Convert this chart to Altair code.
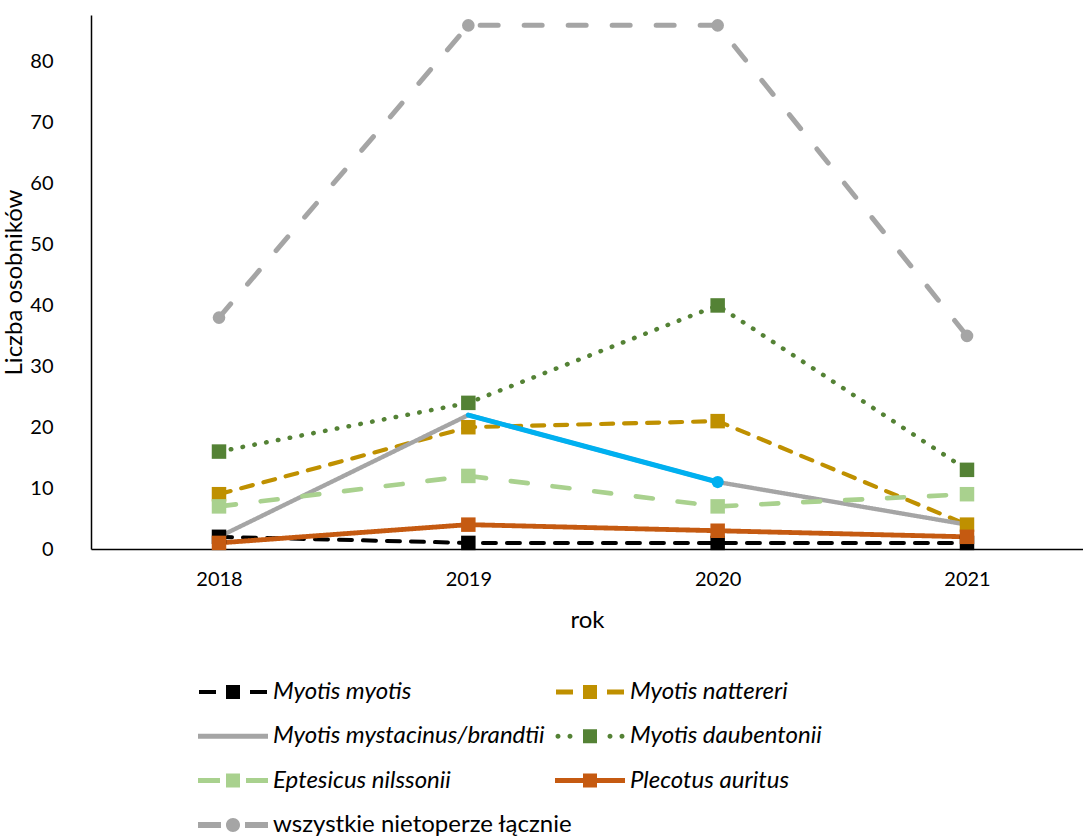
import altair as alt
import pandas as pd

years = [2018, 2019, 2020, 2021]
series = [
    "Myotis myotis",
    "Myotis nattereri",
    "Myotis mystacinus/brandtii",
    "Myotis daubentonii",
    "Eptesicus nilssonii",
    "Plecotus auritus",
    "wszystkie nietoperze łącznie",
]
v_myotis = [2, 1, 1, 1]
v_nattereri = [9, 20, 21, 4]
v_mystacinus = [2, 22, 11, 4]
v_daubentonii = [16, 24, 40, 13]
v_eptesicus = [7, 12, 7, 9]
v_plecotus = [1, 4, 3, 2]
v_total = [38, 86, 86, 35]
# segment of the mystacinus/brandtii series drawn in blue in the original
hl_years = [2019, 2020]
hl_values = [22, 11]

colors = ["#000000", "#BF9000", "#A5A5A5", "#548235", "#A9D18E", "#C55A11", "#A5A5A5"]
dashes = [[13, 11], [12, 11], [1, 0], [0.5, 11.5], [17, 25], [1, 0], [18, 26]]
widths = [4, 5, 5, 5, 5, 5, 6]

values = [v_myotis, v_nattereri, v_mystacinus, v_daubentonii, v_eptesicus, v_plecotus, v_total]
rows = []
for s, vals in zip(series, values):
    for y, v in zip(years, vals):
        rows.append({"rok": y, "series": s, "value": v})
df = pd.DataFrame(rows)
hl = pd.DataFrame({"rok": hl_years, "value": hl_values})


# legend symbol paths (1 unit = 1 px with symbolSize 4)
def rect(x0, x1, h):
    return f"M{x0},{-h/2}H{x1}V{h/2}H{x0}Z"


def sq(s):
    return rect(-s / 2, s / 2, s)


def circ(cx, r):
    return f"M{cx - r},0A{r},{r} 0 1,0 {cx + r},0A{r},{r} 0 1,0 {cx - r},0Z"


sym = [
    rect(-34, -17, 4) + sq(14) + rect(17, 34, 4),
    rect(-34, -17, 5) + sq(14) + rect(17, 34, 5),
    rect(-35, 35, 5),
    circ(-32, 2.5) + circ(-20, 2.5) + sq(14) + circ(20, 2.5) + circ(32, 2.5),
    rect(-35, -13, 5) + sq(14) + rect(13, 35, 5),
    rect(-35, 35, 5) + sq(14),
    rect(-35, -12, 6) + circ(0, 7) + rect(12, 35, 6),
]

# legend order: the legend fills column by column, so this gives the
# row-by-row reading order of the original (2 columns)
leg_idx = [0, 2, 4, 6, 1, 3, 5]
leg_series = [series[i] for i in leg_idx]
leg_colors = [colors[i] for i in leg_idx]
leg_sym = [sym[i] for i in leg_idx]

x_scale = alt.Scale(domain=[2017.4866, 2021.4653], nice=False, zero=False)
y_scale = alt.Scale(domain=[0, 87.7], nice=False)

x_enc = alt.X(
    "rok:Q",
    scale=x_scale,
    axis=alt.Axis(values=years, format="d", title="rok", labelPadding=20,
                  ticks=False, grid=False, titlePadding=19),
)
y_enc = alt.Y(
    "value:Q",
    scale=y_scale,
    axis=alt.Axis(values=[0, 10, 20, 30, 40, 50, 60, 70, 80], title="Liczba osobników",
                  labelPadding=38, ticks=False, grid=False,
                  titleX=-77, titleY=267, titleBaseline="middle", titleAlign="center",
                  titleAngle=270),
)

base = alt.Chart(df)

lines = base.mark_line(strokeCap="round", strokeJoin="round").encode(
    x=x_enc,
    y=y_enc,
    color=alt.Color("series:N", scale=alt.Scale(domain=series, range=colors), legend=None),
    strokeDash=alt.StrokeDash("series:N", scale=alt.Scale(domain=series, range=dashes), legend=None),
    strokeWidth=alt.StrokeWidth("series:N", scale=alt.Scale(domain=series, range=widths), legend=None),
    detail="series:N",
)

blue_line = alt.Chart(hl).mark_line(color="#00B0F0", strokeWidth=5, strokeCap="round").encode(
    x=alt.X("rok:Q", scale=x_scale), y=alt.Y("value:Q", scale=y_scale)
)
blue_pt = alt.Chart(hl).transform_filter("datum.rok == 2020").mark_circle(
    color="#00B0F0", size=150, opacity=1
).encode(x=alt.X("rok:Q", scale=x_scale), y=alt.Y("value:Q", scale=y_scale))

squares = base.transform_filter(
    (alt.datum.series != "wszystkie nietoperze łącznie")
    & (alt.datum.series != "Myotis mystacinus/brandtii")
).mark_square(size=210, opacity=1).encode(
    x=alt.X("rok:Q", scale=x_scale),
    y=alt.Y("value:Q", scale=y_scale),
    color=alt.Color("series:N", scale=alt.Scale(domain=series, range=colors), legend=None),
)
circles = base.transform_filter(
    alt.datum.series == "wszystkie nietoperze łącznie"
).mark_circle(size=160, opacity=1, color="#A5A5A5").encode(
    x=alt.X("rok:Q", scale=x_scale),
    y=alt.Y("value:Q", scale=y_scale),
)

leg = alt.Legend(
    title=None,
    orient="none",
    legendX=130,
    legendY=665,
    columns=2,
    symbolSize=4,
    symbolStrokeWidth=0,
    labelOffset=28,
    columnPadding=-18,
    rowPadding=20.3,
    labelFontSize=24,
    labelLimit=500,
    labelFontStyle={"expr": "datum.value === 'wszystkie nietoperze łącznie' ? 'normal' : 'italic'"},
)
# helper layer that only carries the legend (its marks sit outside the canvas)
legend_layer = base.mark_point(filled=True, opacity=1, strokeWidth=0).encode(
    x=alt.value(-500),
    y=alt.value(-500),
    shape=alt.Shape("series:N", scale=alt.Scale(domain=leg_series, range=leg_sym), legend=leg),
    fill=alt.Fill("series:N", scale=alt.Scale(domain=leg_series, range=leg_colors), legend=leg),
)

chart = alt.layer(lines, blue_line, squares, circles, blue_pt, legend_layer).properties(
    width=992,
    height=534,
    autosize=alt.AutoSizeParams(type="none"),
    padding={"left": 91, "top": 15, "right": 0, "bottom": 287},
).configure(font="Lato").configure_view(stroke=None).configure_axis(
    domainColor="black",
    domainWidth=1.5,
    labelFontSize=20,
    labelColor="black",
    titleFontSize=24,
    titleFontWeight="normal",
    titleColor="black",
)

chart.save("out.html", embed_options={"renderer": "svg", "actions": False})
